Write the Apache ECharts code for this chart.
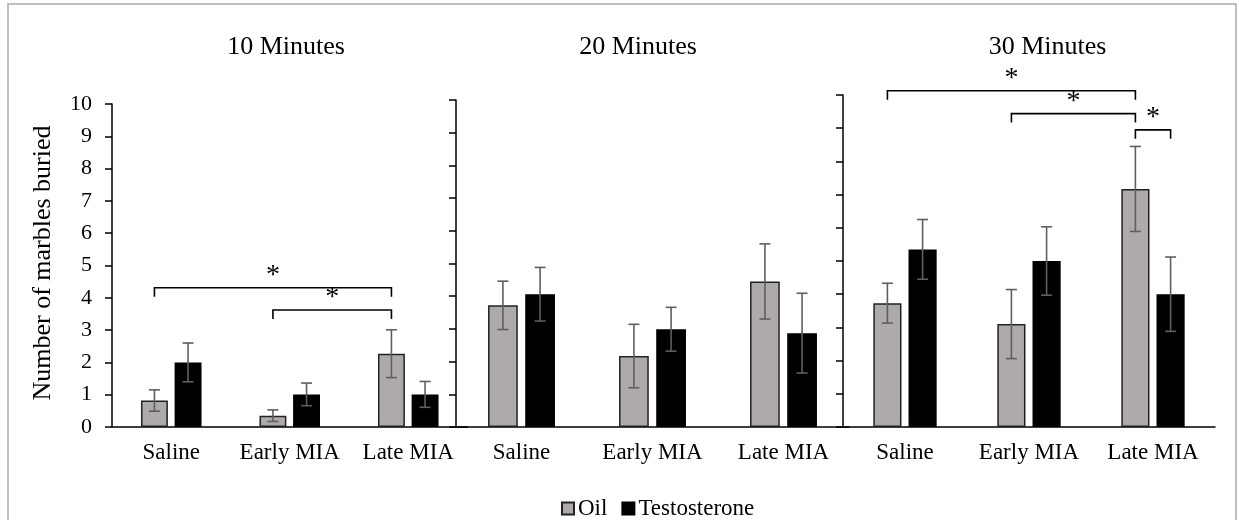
<!DOCTYPE html>
<html><head><meta charset="utf-8">
<script src="https://cdn.jsdelivr.net/npm/echarts@6/dist/echarts.min.js"></script>
<style>html,body{margin:0;padding:0;background:#fff}#c{width:1239px;height:520px}</style>
</head><body><div id="c"></div>
<script>
const categories = ['Saline', 'Early MIA', 'Late MIA'];
const panelTitles = ['10 Minutes', '20 Minutes', '30 Minutes'];
const yTicks = [0, 10, 1];
// means [Saline, Early MIA, Late MIA]
const oil10 = [0.82, 0.35, 2.27];
const oilErr10 = [0.33, 0.18, 0.74];
const testo10 = [2.0, 1.01, 1.01];
const testoErr10 = [0.6, 0.35, 0.4];
const oil20 = [3.72, 2.17, 4.45];
const oilErr20 = [0.74, 0.97, 1.15];
const testo20 = [4.06, 2.99, 2.87];
const testoErr20 = [0.82, 0.67, 1.22];
const oil30 = [3.73, 3.1, 7.17];
const oilErr30 = [0.6, 1.04, 1.28];
const testo30 = [5.35, 5.0, 4.0];
const testoErr30 = [0.9, 1.03, 1.12];
// significance brackets: [fromCategory, fromSeries(0 oil,1 testo), toCategory, toSeries, level]
const sig10 = [[0, 0, 2, 0, 4.31], [1, 0, 2, 0, 3.62]];
const sig20 = [];
const sig30 = [[0, 0, 2, 0, 10.13], [1, 0, 2, 0, 9.44], [2, 0, 2, 1, 8.95]];

const FONT = 'Liberation Serif';
const BW = 0.227, GAP = 0.25;
const OIL_COLOR = '#AEAAAA', TESTO_COLOR = '#000000';

const panels = [
  {oil: oil10, oilErr: oilErr10, testo: testo10, testoErr: testoErr10, sig: sig10},
  {oil: oil20, oilErr: oilErr20, testo: testo20, testoErr: testoErr20, sig: sig20},
  {oil: oil30, oilErr: oilErr30, testo: testo30, testoErr: testoErr30, sig: sig30}
];
const grids = [
  {left: 112, width: 355.5, top: 104, bottom: 93},
  {left: 456, width: 393, top: 100, bottom: 93},
  {left: 843, width: 372, top: 95, bottom: 93}
];
const titleX = [281, 633, 1042.5];

function offsetFor(api, s) {
  const band = api.size([1, 0])[0];
  const w = band * BW, g = w * GAP;
  return (s === 0 ? -1 : 1) * (w + g) / 2;
}
function errRender(s) {
  return function (params, api) {
    const cat = api.value(0), m = api.value(1), e = api.value(2);
    const off = offsetFor(api, s);
    const hi = api.coord([cat, m + e]), lo = api.coord([cat, m - e]);
    const x = hi[0] + off, cw = 5.5;
    const st = {stroke: '#5f5f5f', lineWidth: 1.6};
    return {type: 'group', children: [
      {type: 'line', shape: {x1: x, y1: hi[1], x2: x, y2: lo[1]}, style: st},
      {type: 'line', shape: {x1: x - cw, y1: hi[1], x2: x + cw, y2: hi[1]}, style: st},
      {type: 'line', shape: {x1: x - cw, y1: lo[1], x2: x + cw, y2: lo[1]}, style: st}
    ]};
  };
}
function sigRender(params, api) {
  const c1 = api.value(0), s1 = api.value(1), c2 = api.value(2), s2 = api.value(3), lv = api.value(4);
  const p1 = api.coord([c1, lv]), p2 = api.coord([c2, lv]);
  const x1 = p1[0] + offsetFor(api, s1), x2 = p2[0] + offsetFor(api, s2), y = p1[1];
  const drop = 9;
  return {type: 'group', children: [
    {type: 'polyline', shape: {points: [[x1, y + drop], [x1, y], [x2, y], [x2, y + drop]]},
      style: {stroke: '#000', lineWidth: 1.6, fill: null}},
    {type: 'text', x: (x1 + x2) / 2, y: y + 2,
      style: {text: '*', font: '28px "' + FONT + '"', fill: '#000', align: 'center', verticalAlign: 'bottom'}}
  ]};
}

const xAxis = [], yAxis = [], series = [];
panels.forEach((p, i) => {
  xAxis.push({
    type: 'category', gridIndex: i, data: categories,
    axisLine: {show: true, lineStyle: {color: '#000', width: 1.5}},
    axisTick: {show: false},
    axisLabel: {color: '#000', fontFamily: FONT, fontSize: 23, margin: 14, interval: 0, hideOverlap: false}
  });
  yAxis.push({
    type: 'value', gridIndex: i, min: yTicks[0], max: yTicks[1], interval: yTicks[2],
    axisLine: {show: true, lineStyle: {color: '#000', width: 1.5}},
    axisTick: {show: true, length: 7, lineStyle: {color: '#000', width: 1.5}},
    splitLine: {show: false},
    axisLabel: {show: i === 0, color: '#000', fontFamily: FONT, fontSize: 22, margin: 20}
  });
  series.push({
    name: 'Oil', type: 'bar', xAxisIndex: i, yAxisIndex: i, data: p.oil,
    barWidth: (BW * 100) + '%', barGap: (GAP * 100) + '%',
    itemStyle: {color: OIL_COLOR, borderColor: '#222', borderWidth: 1.5}, silent: true
  });
  series.push({
    name: 'Testosterone', type: 'bar', xAxisIndex: i, yAxisIndex: i, data: p.testo,
    barWidth: (BW * 100) + '%', barGap: (GAP * 100) + '%',
    itemStyle: {color: TESTO_COLOR, borderColor: '#000', borderWidth: 1.5}, silent: true
  });
  series.push({
    type: 'custom', xAxisIndex: i, yAxisIndex: i, renderItem: errRender(0), z: 5,
    encode: {x: 0, y: 1}, data: p.oil.map((v, k) => [k, v, p.oilErr[k]]), silent: true
  });
  series.push({
    type: 'custom', xAxisIndex: i, yAxisIndex: i, renderItem: errRender(1), z: 5,
    encode: {x: 0, y: 1}, data: p.testo.map((v, k) => [k, v, p.testoErr[k]]), silent: true
  });
  if (p.sig.length) series.push({
    type: 'custom', xAxisIndex: i, yAxisIndex: i, renderItem: sigRender, z: 6, clip: false,
    encode: {x: [0, 2], y: 4}, data: p.sig, silent: true
  });
});

const chart = echarts.init(document.getElementById('c'), null, {renderer: 'canvas'});
chart.setOption({
  animation: false,
  backgroundColor: '#fff',
  textStyle: {fontFamily: FONT},
  grid: grids,
  xAxis, yAxis, series,
  title: panelTitles.map((t, i) => ({
    text: t, left: titleX[i], top: 29, textAlign: 'center',
    textStyle: {fontFamily: FONT, fontSize: 26, fontWeight: 'normal', color: '#000'}
  })),
  legend: {
    data: ['Oil', 'Testosterone'], left: 556, top: 492, icon: 'rect',
    itemWidth: 12, itemHeight: 12, itemGap: 14,
    textStyle: {fontFamily: FONT, fontSize: 23, color: '#000', padding: [0, 0, 0, -1]}
  },
  graphic: [
    {type: 'rect', shape: {x: 8, y: 4, width: 1228, height: 540}, style: {fill: null, stroke: '#ababab', lineWidth: 1.5}, silent: true},
    {type: 'text', x: 43, y: 263, rotation: Math.PI / 2, silent: true,
      style: {text: 'Number of marbles buried', font: '26px "' + FONT + '"', fill: '#000', align: 'center', verticalAlign: 'middle'}}
  ]
});
</script></body></html>
